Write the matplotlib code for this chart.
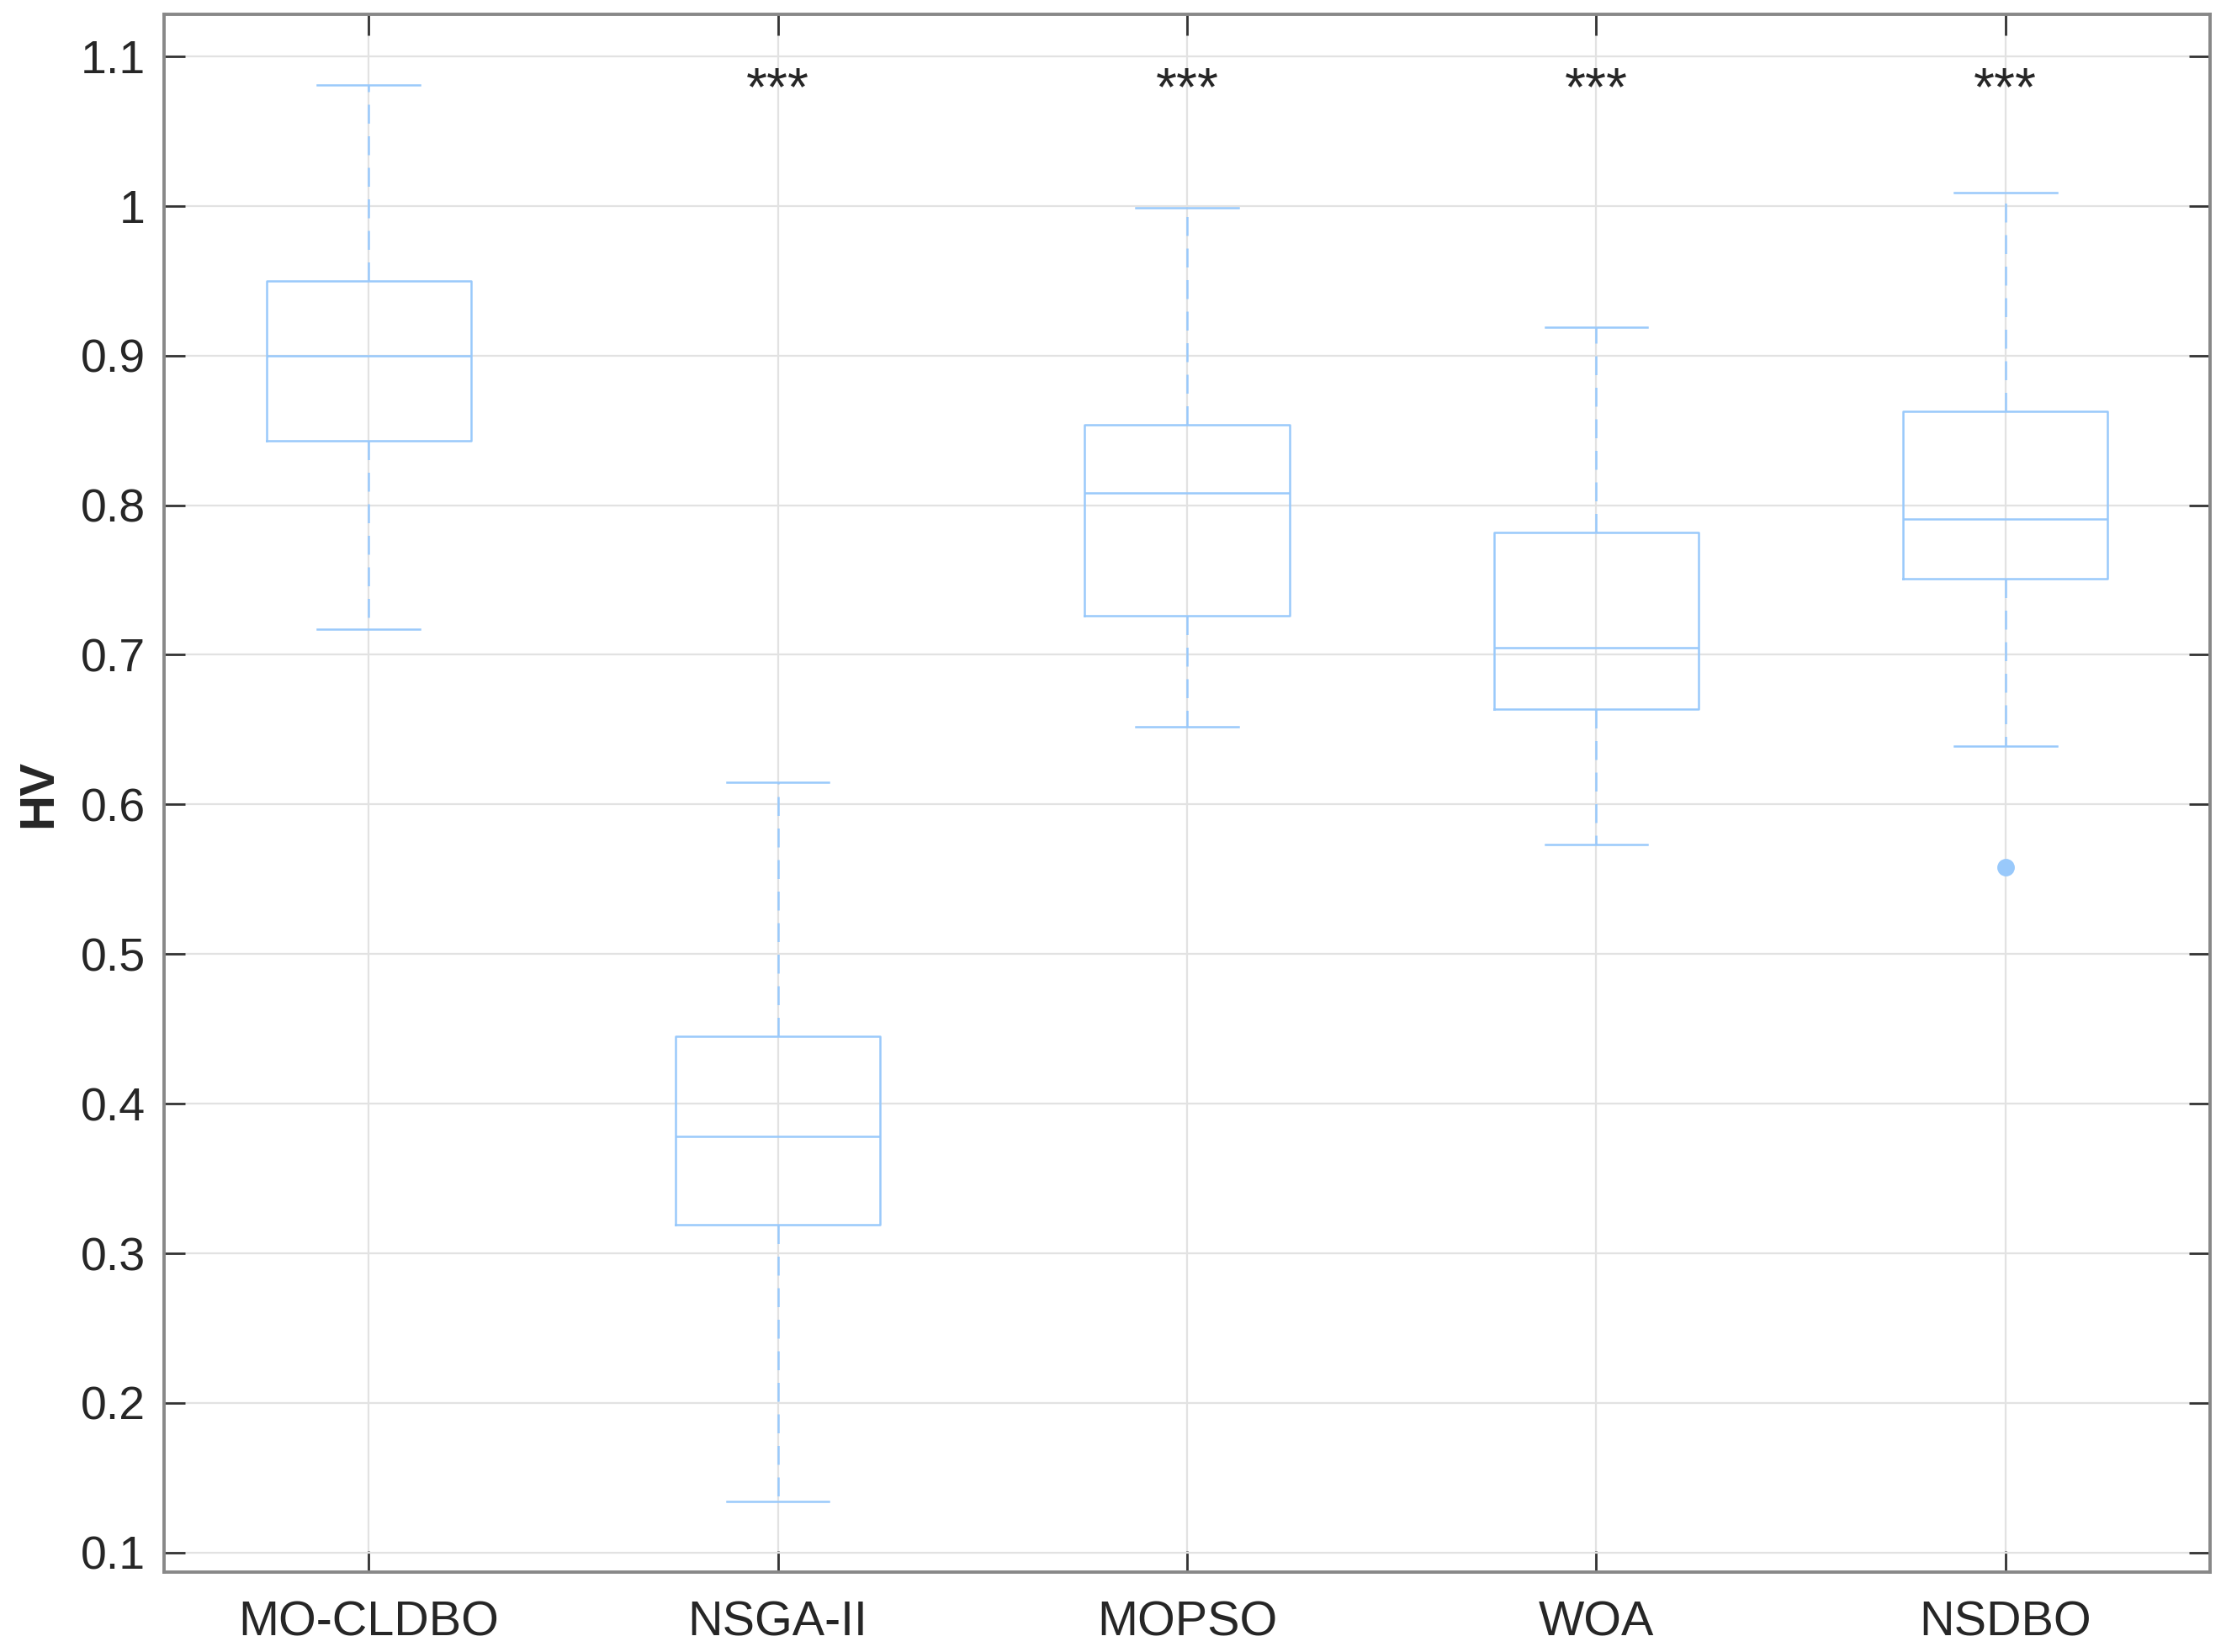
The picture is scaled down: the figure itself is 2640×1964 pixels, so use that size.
import matplotlib
matplotlib.use("Agg")
import matplotlib.pyplot as plt

categories = ["MO-CLDBO", "NSGA-II", "MOPSO", "WOA", "NSDBO"]
whislo = [0.717, 0.134, 0.652, 0.573, 0.639]
q1     = [0.843, 0.319, 0.726, 0.664, 0.751]
med    = [0.900, 0.378, 0.808, 0.705, 0.791]
q3     = [0.950, 0.445, 0.854, 0.782, 0.863]
whishi = [1.081, 0.615, 0.999, 0.919, 1.009]
fliers = [[], [], [], [], [0.558]]
sig_labels = ["", "***", "***", "***", "***"]
sig_y = 1.077

plt.rcParams['font.family'] = ['Liberation Sans', 'DejaVu Sans']

fig = plt.figure(figsize=(13.2, 9.82), dpi=200)
ax = fig.add_axes([0.0739, 0.0484, 0.9212, 0.9429])

stats = []
for i, c in enumerate(categories):
    stats.append(dict(label=c, whislo=whislo[i], q1=q1[i], med=med[i],
                      q3=q3[i], whishi=whishi[i], fliers=fliers[i]))

col = '#99c9fb'
ax.bxp(stats, positions=range(1, 6), widths=0.5, showfliers=True,
       boxprops=dict(color=col, linewidth=0.9),
       medianprops=dict(color=col, linewidth=0.9),
       whiskerprops=dict(color=col, linewidth=0.9, linestyle=(0, (9, 6))),
       capprops=dict(color=col, linewidth=0.9),
       capwidths=0.25,
       flierprops=dict(marker='o', markerfacecolor=col, markeredgecolor=col,
                       markersize=6.5))

for i, s in enumerate(sig_labels):
    if s:
        ax.text(i + 1, sig_y, s, ha='center', va='center', fontsize=23,
                color='#262626')

ax.set_xlim(0.5, 5.5)
ax.set_ylim(0.087, 1.128)
ax.set_yticks([0.1, 0.2, 0.3, 0.4, 0.5, 0.6, 0.7, 0.8, 0.9, 1.0, 1.1])
ax.set_yticklabels(['0.1', '0.2', '0.3', '0.4', '0.5', '0.6', '0.7', '0.8',
                    '0.9', '1', '1.1'])
ax.set_xticks(range(1, 6))
ax.set_xticklabels(categories)

ax.grid(True, color='#e2e2e2', linewidth=0.8)
ax.set_axisbelow(True)
for sp in ax.spines.values():
    sp.set_color('#888888')
    sp.set_linewidth(1.4)
ax.tick_params(direction='in', length=9, width=1.0, color='#333333',
               labelsize=20, labelcolor='#262626', top=True, right=True,
               pad=8)
ax.tick_params(axis='x', pad=12, labelsize=20.7)
ax.set_ylabel('HV', fontsize=21, fontweight='bold', color='#262626', labelpad=8)

fig.savefig('out.png', dpi=200)
